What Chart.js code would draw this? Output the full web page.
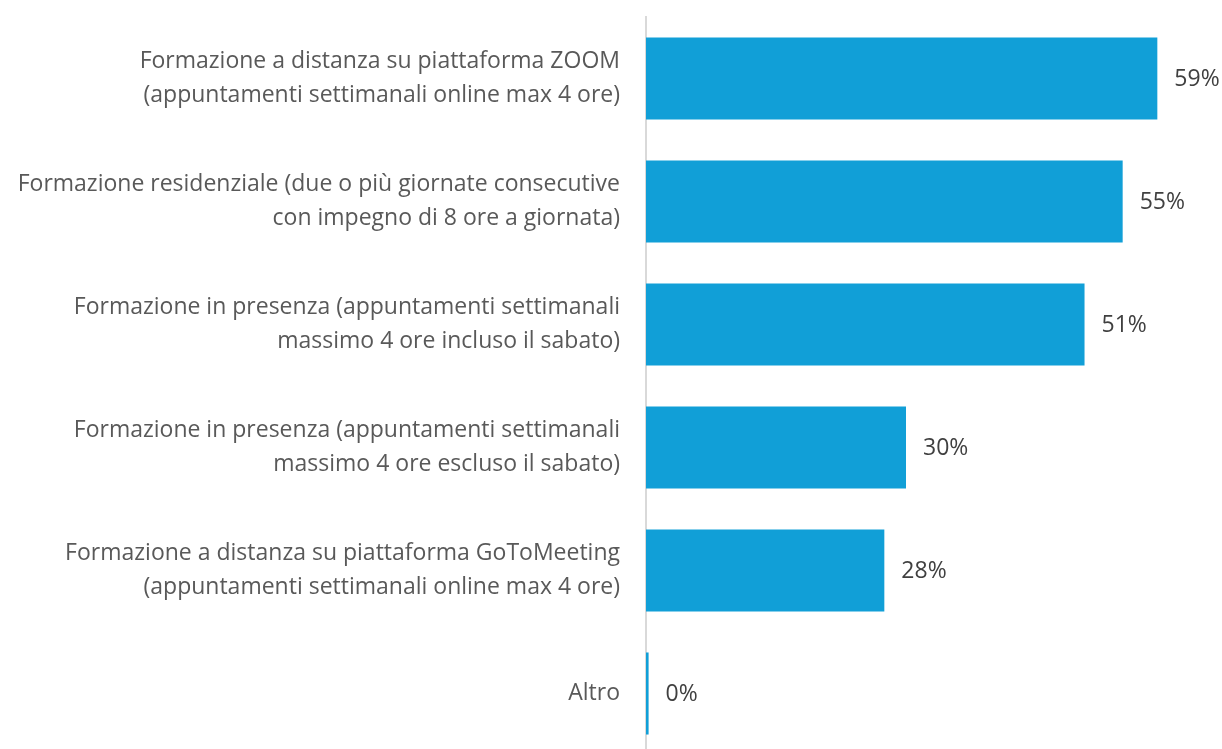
<!DOCTYPE html>
<html>
<head>
<meta charset="utf-8">
<script src="https://cdn.jsdelivr.net/npm/chart.js@4.4.1/dist/chart.umd.min.js"></script>
<style>
    html, body { margin: 0; padding: 0; background: #fff; overflow: hidden; }
    #wrap { position: relative; width: 1222px; height: 756px; }
</style>
</head>
<body>
<div id="wrap"><canvas id="chart"></canvas></div>
<script>
// categories (one array per label line)
const categories = [
    ['Formazione a distanza su piattaforma ZOOM', '(appuntamenti settimanali online max 4 ore)'],
    ['Formazione residenziale (due o più giornate consecutive', 'con impegno di 8 ore a giornata)'],
    ['Formazione in presenza (appuntamenti settimanali', 'massimo 4 ore incluso il sabato)'],
    ['Formazione in presenza (appuntamenti settimanali', 'massimo 4 ore escluso il sabato)'],
    ['Formazione a distanza su piattaforma GoToMeeting', '(appuntamenti settimanali online max 4 ore)'],
    ['Altro']
];
const values = [59, 55, 50.6, 30, 27.5, 0.3];
const valueLabels = ['59%', '55%', '51%', '30%', '28%', '0%'];

const barColor = '#119FD7';

// draws the % text at the end of each bar
const endLabels = {
    id: 'endLabels',
    afterDatasetsDraw(chart) {
        const ctx = chart.ctx;
        const meta = chart.getDatasetMeta(0);
        ctx.save();
        ctx.font = '23px "Open Sans"';
        ctx.fillStyle = '#404040';
        ctx.textAlign = 'left';
        ctx.textBaseline = 'middle';
        meta.data.forEach((bar, i) => {
            ctx.fillText(valueLabels[i], bar.x + 17, bar.y + 1);
        });
        ctx.restore();
    }
};

new Chart(document.getElementById('chart'), {
    type: 'bar',
    data: {
        labels: categories,
        datasets: [{
            data: values,
            backgroundColor: barColor,
            categoryPercentage: 1,
            barPercentage: 0.667
        }]
    },
    options: {
        indexAxis: 'y',
        responsive: true,
        maintainAspectRatio: false,
        animation: false,
        layout: { padding: { top: 17, right: 4, bottom: 1, left: 0 } },
        plugins: {
            legend: { display: false },
            tooltip: { enabled: false }
        },
        scales: {
            x: {
                display: false,
                min: 0,
                max: 66
            },
            y: {
                grid: { display: false, drawTicks: false },
                border: { display: true, color: '#d9d9d9', width: 2 },
                ticks: {
                    color: '#595959',
                    font: { family: 'Open Sans', size: 23, lineHeight: 1.48 },
                    padding: 26
                },
                afterFit(scale) {
                    scale.width = 646;
                    scale.paddingTop = 0;
                    scale.paddingBottom = 0;
                }
            }
        }
    },
    plugins: [endLabels]
});
</script>
</body>
</html>
